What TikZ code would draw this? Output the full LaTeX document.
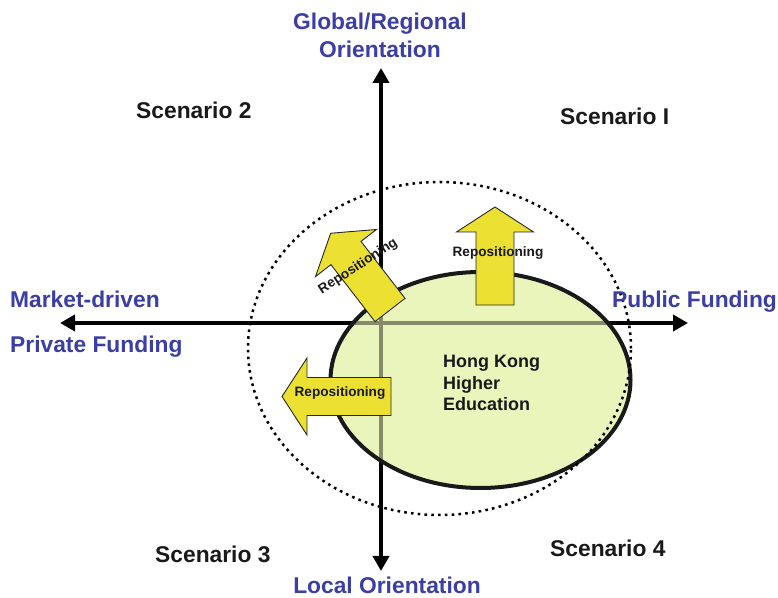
\documentclass[tikz,border=0pt]{standalone}
\usepackage{fontspec}
\setmainfont{Liberation Sans}
\usetikzlibrary{arrows.meta}

\definecolor{axisblue}{RGB}{58,62,165}
\definecolor{hkfill}{RGB}{234,245,188}
\definecolor{repoyellow}{RGB}{236,224,50}
\definecolor{insidegray}{RGB}{136,138,108}

\tikzset{
  axis/.style={line width=4bp, {Triangle[length=15bp,width=16bp]}-{Triangle[length=15bp,width=16bp]}},
  inaxis/.style={line width=4.5bp, insidegray},
  axislabel/.style={text=axisblue, font=\fontsize{22.8bp}{28bp}\selectfont\bfseries, inner sep=0},
  scenario/.style={text=black!90, font=\fontsize{22.8bp}{28bp}\selectfont\bfseries, inner sep=0},
  repo/.style={fill=repoyellow, draw=black!85, line width=0.9bp, line join=miter},
  repolabel/.style={text=black!90, font=\fontsize{13.6bp}{16bp}\selectfont\bfseries, inner sep=0},
}

% block arrow: base point, direction, shaft length
\newcommand{\repoarrow}[4]{%
  \draw[repo, shift={(#1,#2)}, rotate=#3] (0,-19) -- (#4,-19) -- (#4,-38.5) -- (#4+25,0)
    -- (#4,38.5) -- (#4,19) -- (0,19) -- cycle;}

\begin{document}
\begin{tikzpicture}[x=1bp, y=1bp]
    \useasboundingbox (0,0) rectangle (778,598);

    % the two axes
    \coordinate (top) at (381,530);
    \coordinate (bottom) at (381,27);
    \coordinate (left) at (60,275);
    \coordinate (right) at (688,275);
    \draw[axis] (bottom) -- (top);
    \draw[axis] (left) -- (right);

    % higher education sector
    \coordinate (hk) at (480.5,218);
    \fill[hkfill] (hk) ellipse [x radius=150, y radius=108];
    \begin{scope}
        \clip (hk) ellipse [x radius=150, y radius=108];
        \draw[inaxis] (bottom) -- (top) (left) -- (right);
    \end{scope}
    \draw[line width=4bp, black!90] (hk) ellipse [x radius=150, y radius=108];
    \node[anchor=north west, align=left, inner sep=0, text=black!90,
          font=\fontsize{18bp}{21.5bp}\selectfont\bfseries] (hktext) at (443,243)
          {Hong Kong\\Higher\\Education};

    \coordinate (range) at (439.5,249.5);
    \draw[line width=2.5bp, dash pattern=on 2.6bp off 4.2bp] (range) ellipse [x radius=191.5, y radius=166.5];

    % repositioning moves
    \repoarrow{495}{293}{90}{73}
    \repoarrow{391}{201.5}{180}{84}
    \repoarrow{390}{288}{127.7}{72}
    \node[repolabel, anchor=base] (repoup) at (498,341) {Repositioning};
    \node[repolabel, anchor=base] (repoleft) at (340,201) {Repositioning};
    \node[repolabel, anchor=base, rotate=33] (repotilt) at (360,328.5) {Repositioning};

    % axis labels
    \node[axislabel, anchor=north, align=center] (global) at (380,585) {Global/Regional\\Orientation};
    \node[axislabel, anchor=base] (local) at (387,4) {Local Orientation};
    \node[axislabel, anchor=base west] (market) at (10,290) {Market-driven};
    \node[axislabel, anchor=base west] (private) at (10,245) {Private Funding};
    \node[axislabel, anchor=base west] (public) at (612,290) {Public Funding};

    % quadrants
    \node[scenario, anchor=base west] (sc1) at (560,473) {Scenario I};
    \node[scenario, anchor=base west] (sc2) at (136,479) {Scenario 2};
    \node[scenario, anchor=base west] (sc3) at (155,35) {Scenario 3};
    \node[scenario, anchor=base west] (sc4) at (550,41) {Scenario 4};
\end{tikzpicture}
\end{document}
